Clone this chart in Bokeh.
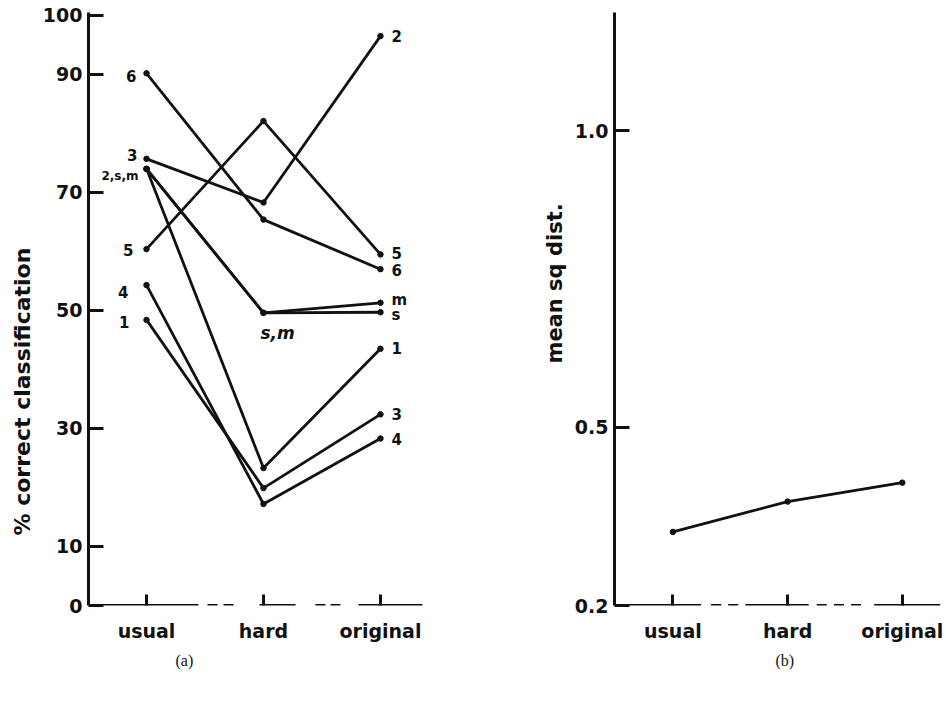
from bokeh.plotting import figure
from bokeh.layouts import row
from bokeh.models import Range1d, FixedTicker, ColumnDataSource, Title
from bokeh.core.properties import value
from bokeh.embed import file_html
from bokeh.resources import INLINE

# ---------------- data ----------------
conditions = ["usual", "hard", "original"]

# panel (a): % correct classification, one entry per drawn line
usual_pct = [75.7, 74.0, 74.0, 74.0, 90.2, 60.4, 54.3, 48.4]
hard_pct = [68.3, 23.3, 49.6, 49.6, 65.4, 82.1, 17.2, 19.9]
original_pct = [96.5, 43.5, 49.7, 51.3, 57.0, 59.5, 28.3, 32.4]
left_tags = ["3", "2,s,m", "", "", "6", "5", "4", "1"]
mid_tags = ["", "", "s,m", "", "", "", "", ""]
right_tags = ["2", "1", "s", "m", "6", "5", "4", "3"]

pct_ticks = [0, 10, 30, 50, 70, 90, 100]

# panel (b): mean squared distance
msd = [0.324, 0.375, 0.407]
msd_ticks = [0.2, 0.5, 1.0]
msd_tick_labels = ["0.2", "0.5", "1.0"]

# ---------------- styles ----------------
FONT = "DejaVu Sans"
INK = "#111111"
LW = 2.8

def style_fig(p):
    p.outline_line_color = None
    p.xgrid.visible = False
    p.ygrid.visible = False
    p.background_fill_color = "white"
    p.border_fill_color = "white"

def style_axes(p, xt, yt, y_overrides=None):
    xa = p.xaxis[0]
    xa.ticker = FixedTicker(ticks=xt)
    xa.major_label_overrides = {i: c for i, c in enumerate(conditions)}
    xa.axis_line_color = None
    xa.major_tick_in = 11
    xa.major_tick_out = 0
    xa.major_tick_line_width = 3
    xa.major_tick_line_color = INK
    xa.minor_tick_line_color = None
    xa.major_label_text_font = FONT
    xa.major_label_text_font_style = "bold"
    xa.major_label_text_font_size = "19px"
    xa.major_label_text_color = INK
    xa.major_label_standoff = 14

    ya = p.yaxis[0]
    ya.ticker = FixedTicker(ticks=yt)
    if y_overrides:
        ya.major_label_overrides = y_overrides
    ya.axis_line_width = 3
    ya.axis_line_color = INK
    ya.major_tick_in = 15
    ya.major_tick_out = 0
    ya.major_tick_line_width = 3
    ya.major_tick_line_color = INK
    ya.minor_tick_line_color = None
    ya.major_label_text_font = FONT
    ya.major_label_text_font_style = "bold"
    ya.major_label_text_font_size = "19px"
    ya.major_label_text_color = INK
    ya.major_label_standoff = 6

def side_title(p, text, where, offset, standoff, size, font=FONT, style="bold"):
    p.add_layout(Title(text=text, align="left", offset=offset, standoff=standoff,
                       text_font=font, text_font_style=style, text_font_size=size,
                       text_color=INK), where)

# ---------------- panel (a) ----------------
p1 = figure(width=468, height=690, output_backend="svg", toolbar_location=None,
            x_range=Range1d(-0.496, 2.385), y_range=Range1d(0, 100.5),
            min_border_left=88, min_border_right=43, min_border_top=12, min_border_bottom=85)
style_fig(p1)
style_axes(p1, [0, 1, 2], pct_ticks)

# broken baseline (decoration)
base_a = [(-0.496, 0.444), (0.521, 0.607), (0.658, 0.744), (0.966, 1.274),
          (1.444, 1.530), (1.573, 1.658), (1.812, 2.359)]
p1.segment(x0=[a for a, b in base_a], x1=[b for a, b in base_a],
           y0=[0] * len(base_a), y1=[0] * len(base_a),
           line_color=INK, line_width=3)

xs = [[0, 1, 2] for _ in usual_pct]
ys = [[u, h, o] for u, h, o in zip(usual_pct, hard_pct, original_pct)]
p1.multi_line(xs=xs, ys=ys, line_color=INK, line_width=LW)
p1.scatter(x=[0] * len(usual_pct) + [1] * len(hard_pct) + [2] * len(original_pct),
           y=usual_pct + hard_pct + original_pct, size=5.5, color=INK)

# left-end tags
left_off_x = [-9, -8, 0, 0, -10, -13, -18, -17]
left_off_y = [-4, 7, 0, 0, 3, 1, 7, 2]
left_size = ["15px", "12px", "15px", "15px", "15px", "15px", "15px", "15px"]
src_l = ColumnDataSource(dict(x=[0] * len(usual_pct), y=usual_pct, t=left_tags,
                              dx=left_off_x, dy=left_off_y, fs=left_size))
p1.text(x="x", y="y", text="t", x_offset="dx", y_offset="dy", text_font_size="fs",
        source=src_l, text_align="right", text_baseline="middle",
        text_font=value(FONT), text_font_style="bold", text_color=INK)

# middle tag
src_m = ColumnDataSource(dict(x=[1] * len(hard_pct), y=hard_pct, t=mid_tags))
p1.text(x="x", y="y", text="t", source=src_m, x_offset=-3, y_offset=20,
        text_align="left", text_baseline="middle", text_font=value(FONT),
        text_font_style="bold italic", text_font_size="17px", text_color=INK)

# right-end tags
right_off_y = [0, -1, 3, -3, 1, -1, 0, 0]
src_r = ColumnDataSource(dict(x=[2] * len(original_pct), y=original_pct, t=right_tags,
                              dy=right_off_y))
p1.text(x="x", y="y", text="t", source=src_r, x_offset=11, y_offset="dy",
        text_align="left", text_baseline="middle", text_font=value(FONT),
        text_font_style="bold", text_font_size="15px", text_color=INK)

side_title(p1, "% correct classification", "left", offset=70, standoff=10, size="22px")
side_title(p1, "(a)", "below", offset=87, standoff=10, size="16px",
           font="Liberation Serif", style="normal")

# ---------------- panel (b) ----------------
p2 = figure(width=478, height=690, output_backend="svg", toolbar_location=None,
            x_range=Range1d(-0.509, 2.333), y_range=Range1d(0.2, 1.199),
            min_border_left=146, min_border_right=6, min_border_top=12, min_border_bottom=85)
style_fig(p2)
style_axes(p2, [0, 1, 2], msd_ticks,
           y_overrides={t: s for t, s in zip(msd_ticks, msd_tick_labels)})

base_b = [(-0.509, 0.246), (0.333, 0.421), (0.482, 0.570), (0.632, 1.184),
          (1.254, 1.342), (1.404, 1.491), (1.553, 1.640), (1.754, 2.333)]
p2.segment(x0=[a for a, b in base_b], x1=[b for a, b in base_b],
           y0=[0.2] * len(base_b), y1=[0.2] * len(base_b),
           line_color=INK, line_width=3)

p2.line(x=[0, 1, 2], y=msd, line_color=INK, line_width=LW)
p2.scatter(x=[0, 1, 2], y=msd, size=5.5, color=INK)

side_title(p2, "mean sq dist.", "left", offset=242, standoff=10, size="21px")
side_title(p2, "(b)", "below", offset=161, standoff=10, size="16px",
           font="Liberation Serif", style="normal")

layout = row(p1, p2)
open("out.html", "w").write(file_html(layout, INLINE))
